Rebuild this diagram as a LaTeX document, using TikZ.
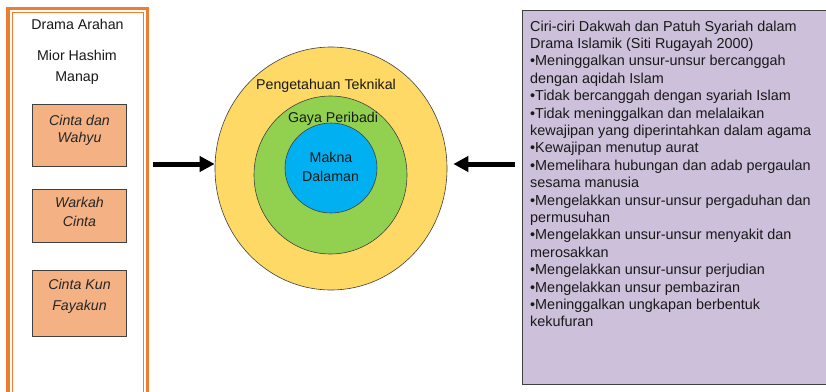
\documentclass[tikz,border=0pt]{standalone}
\usepackage{fontspec}
\setmainfont{Liberation Sans}
\usetikzlibrary{arrows.meta,shapes.geometric}
\definecolor{orng}{HTML}{ED7D31}
\definecolor{salmon}{HTML}{F4B183}
\definecolor{ylw}{HTML}{FFD966}
\definecolor{grn}{HTML}{92D050}
\definecolor{blu}{HTML}{00B0F0}
\definecolor{lil}{HTML}{CCC0DA}
\definecolor{bord}{HTML}{404040}
\tikzset{
  film/.style={draw=bord, line width=0.8pt, fill=salmon, minimum width=94pt, inner sep=0pt},
  lbl/.style={font=\fontsize{14.2}{17}\selectfont, anchor=base, inner sep=0pt, text=black!90},
  ttl/.style={font=\itshape\fontsize{14.2}{17}\selectfont, anchor=base, inner sep=0pt, text=black!85},
  ring/.style={draw=bord, line width=0.6pt, ellipse, inner sep=0pt},
  bigarrow/.style={line width=5pt, -{Triangle[length=15pt,width=15pt]}},
}
\begin{document}
\begin{tikzpicture}[x=1pt,y=-1pt]
\useasboundingbox (0,0) rectangle (826,391);
\fill[white] (0,0) rectangle (826,391);
% left frame
\draw[orng, line width=3.5pt] (8,400) -- (8,8.3) -- (147.7,8.3) -- (147.7,400);
\draw[orng, line width=1pt] (12.7,400) -- (12.7,12.7) -- (143.3,12.7) -- (143.3,400);
\node[lbl] (t1) at (77.5,29.3) {Drama Arahan};
\node[lbl] (t2) at (77,60) {Mior Hashim};
\node[lbl] (t3) at (77,81) {Manap};
\node[film, minimum height=62pt] (b1) at (79,135) {};
\node[ttl] (b1a) at (79.5,125.7) {Cinta dan};
\node[ttl] (b1b) at (79.5,142.7) {Wahyu};
\node[film, minimum height=53pt] (b2) at (79,215.7) {};
\node[ttl] (b2a) at (79.5,207.3) {Warkah};
\node[ttl] (b2b) at (79.5,226.7) {Cinta};
\node[film, minimum height=66.7pt] (b3) at (79,303.3) {};
\node[ttl] (b3a) at (79.5,289.3) {Cinta Kun};
\node[ttl] (b3b) at (79.5,310) {Fayakun};
% circles
\node[ring, fill=ylw, minimum width=232pt, minimum height=243pt] (c1) at (331,168.5) {};
\node[ring, fill=grn, minimum width=153pt, minimum height=158pt] (c2) at (330.5,175) {};
\node[ring, fill=blu, minimum width=92pt, minimum height=90pt] (c3) at (331,168) {};
\node[lbl] (l1) at (326,89) {Pengetahuan Teknikal};
\node[lbl] (l2) at (333,122.7) {Gaya Peribadi};
\node[lbl] (l3) at (331,162.3) {Makna};
\node[lbl] (l4) at (330.5,181.7) {Dalaman};
% right box
\node[draw=bord, line width=1pt, fill=lil, minimum width=320pt, minimum height=374pt, inner sep=0pt, anchor=north west] (rb) at (522.3,10) {};
\node[anchor=north west, inner sep=0pt, align=left, font=\fontsize{14.4}{17.4}\selectfont, text=black!90] (rt) at (530,20.4) {Ciri-ciri Dakwah dan Patuh Syariah dalam\\
Drama Islamik (Siti Rugayah 2000)\\
•Meninggalkan unsur-unsur bercanggah\\
dengan aqidah Islam\\
•Tidak bercanggah dengan syariah  Islam\\
•Tidak meninggalkan dan melalaikan\\
kewajipan yang diperintahkan dalam agama\\
•Kewajipan menutup aurat\\
•Memelihara hubungan dan adab pergaulan\\
sesama manusia\\
•Mengelakkan unsur-unsur pergaduhan dan\\
permusuhan\\
•Mengelakkan unsur-unsur menyakit dan\\
merosakkan\\
•Mengelakkan unsur-unsur perjudian\\
•Mengelakkan unsur pembaziran\\
•Meninggalkan ungkapan berbentuk\\
kekufuran};
% arrows
\coordinate (a1s) at (153,164);
\coordinate (a2s) at (515,164);
\draw[bigarrow] (a1s) -- (c1.west |- a1s);
\draw[bigarrow] (a2s) -- ([xshift=6pt]c1.east |- a2s);
\end{tikzpicture}
\end{document}
